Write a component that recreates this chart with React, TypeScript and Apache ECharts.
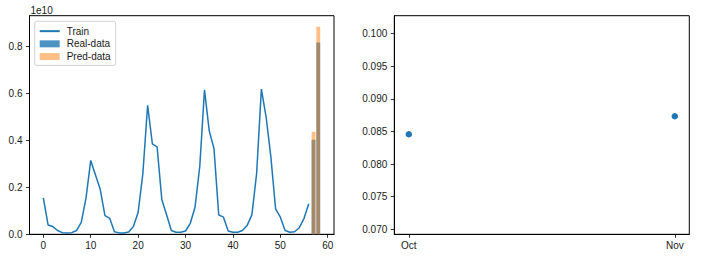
import React, { useEffect, useRef } from "react";
import * as echarts from "echarts";

// Left panel: training series (values in units of 1e10)
const trainValues = [
  0.155, 0.04, 0.033, 0.016, 0.007, 0.006, 0.007, 0.016, 0.051, 0.154,
  0.315, 0.253, 0.192, 0.08, 0.068, 0.011, 0.006, 0.006, 0.01, 0.033,
  0.094, 0.26, 0.55, 0.386, 0.373, 0.147, 0.083, 0.016, 0.009, 0.009,
  0.014, 0.047, 0.115, 0.289, 0.616, 0.441, 0.366, 0.083, 0.073, 0.014,
  0.009, 0.009, 0.016, 0.038, 0.083, 0.26, 0.619, 0.5, 0.33, 0.108,
  0.073, 0.016, 0.009, 0.011, 0.028, 0.068, 0.13,
];
const barPositions = [57, 58];
const realValues = [0.403, 0.818];
const predValues = [0.437, 0.885];
const leftXTicks = [0, 10, 20, 30, 40, 50, 60];
const leftYTicks = [0, 0.2, 0.4, 0.6, 0.8];

// Right panel: monthly metric
const months = ["Oct", "Nov"];
const monthValues = [0.08457, 0.08733];
const rightYTicks = [0.07, 0.075, 0.08, 0.085, 0.09, 0.095, 0.1];

const FONT = "Liberation Sans";
const TXT = "#1a1a1a";
const FS = 10;

export default function App() {
  const ref = useRef<HTMLDivElement>(null);
  useEffect(() => {
    document.body.style.margin = "0";
    const chart = echarts.init(ref.current!, null, { renderer: "svg" });
    const axisCommon = {
      axisLine: { show: true, onZero: false, lineStyle: { color: "#000", width: 1 } },
      axisTick: { show: true, inside: false, length: 3.5, lineStyle: { color: "#000", width: 0.8 } },
      splitLine: { show: false },
    };
    const labelStyle = { color: TXT, fontFamily: FONT, fontSize: FS };
    chart.setOption({
      animation: false,
      backgroundColor: "#fff",
      grid: [
        { left: 29.5, top: 15.7, width: 304.5, height: 218.6, show: true, borderColor: "#000", borderWidth: 1, backgroundColor: "transparent" },
        { left: 394.3, top: 15.7, width: 295, height: 218.6, show: true, borderColor: "#000", borderWidth: 1, backgroundColor: "transparent" },
      ],
      xAxis: [
        {
          type: "value", gridIndex: 0, min: -2.92, max: 61.32,
          ...axisCommon,
          axisTick: { ...axisCommon.axisTick, customValues: leftXTicks },
          axisLabel: { ...labelStyle, margin: 6, customValues: leftXTicks, formatter: (v: number) => String(v) },
        },
        {
          type: "value", gridIndex: 1, min: -0.0545, max: 1.0545,
          ...axisCommon,
          axisTick: { ...axisCommon.axisTick, customValues: [0, 1] },
          axisLabel: { ...labelStyle, margin: 6, customValues: [0, 1], formatter: (v: number) => months[Math.round(v)] ?? "" },
        },
      ],
      yAxis: [
        {
          type: "value", gridIndex: 0, min: 0, max: 0.932,
          ...axisCommon,
          axisTick: { ...axisCommon.axisTick, customValues: leftYTicks },
          axisLabel: { ...labelStyle, margin: 7, customValues: leftYTicks, formatter: (v: number) => v.toFixed(1) },
        },
        {
          type: "value", gridIndex: 1, min: 0.06923, max: 0.10276,
          ...axisCommon,
          axisTick: { ...axisCommon.axisTick, customValues: rightYTicks },
          axisLabel: { ...labelStyle, margin: 7, customValues: rightYTicks, formatter: (v: number) => v.toFixed(3) },
        },
      ],
      legend: {
        orient: "vertical",
        left: 34.7,
        top: 21.3,
        padding: [4, 5, 3, 4],
        itemWidth: 20,
        itemHeight: 7,
        itemGap: 1,
        backgroundColor: "#fff",
        borderColor: "#d0d0d0",
        borderWidth: 1,
        borderRadius: 2,
        textStyle: { color: TXT, fontFamily: FONT, fontSize: FS, lineHeight: 11.7, padding: [0, 0, 0, 2] },
        data: [
          { name: "Train", itemStyle: { opacity: 0 } },
          { name: "Real-data", icon: "rect" },
          { name: "Pred-data", icon: "rect" },
        ],
      },
      graphic: [
        { type: "text", left: 30.5, top: 5.5, style: { text: "1e10", fill: TXT, font: `${FS}px '${FONT}'` } },
      ],
      series: [
        {
          name: "Train", type: "line", xAxisIndex: 0, yAxisIndex: 0,
          data: trainValues.map((v, i) => [i, v]),
          showSymbol: false, symbol: "none",
          lineStyle: { color: "#1f77b4", width: 1.5 },
          itemStyle: { color: "#1f77b4" },
        },
        {
          name: "Real-data", type: "bar", xAxisIndex: 0, yAxisIndex: 0,
          data: barPositions.map((x, i) => [x, realValues[i]]),
          barWidth: 3.8, barGap: "-100%",
          itemStyle: { color: "rgba(31,119,180,0.8)" },
        },
        {
          name: "Pred-data", type: "bar", xAxisIndex: 0, yAxisIndex: 0,
          data: barPositions.map((x, i) => [x, predValues[i]]),
          barWidth: 3.8, barGap: "-100%",
          itemStyle: { color: "rgba(255,127,14,0.5)" },
        },
        {
          name: "metric", type: "scatter", xAxisIndex: 1, yAxisIndex: 1,
          data: monthValues.map((v, i) => [i, v]),
          symbolSize: 6.5,
          itemStyle: { color: "#1f77b4", opacity: 1 },
        },
      ],
    });
    return () => chart.dispose();
  }, []);
  return <div ref={ref} style={{ width: 709, height: 256 }} />;
}
